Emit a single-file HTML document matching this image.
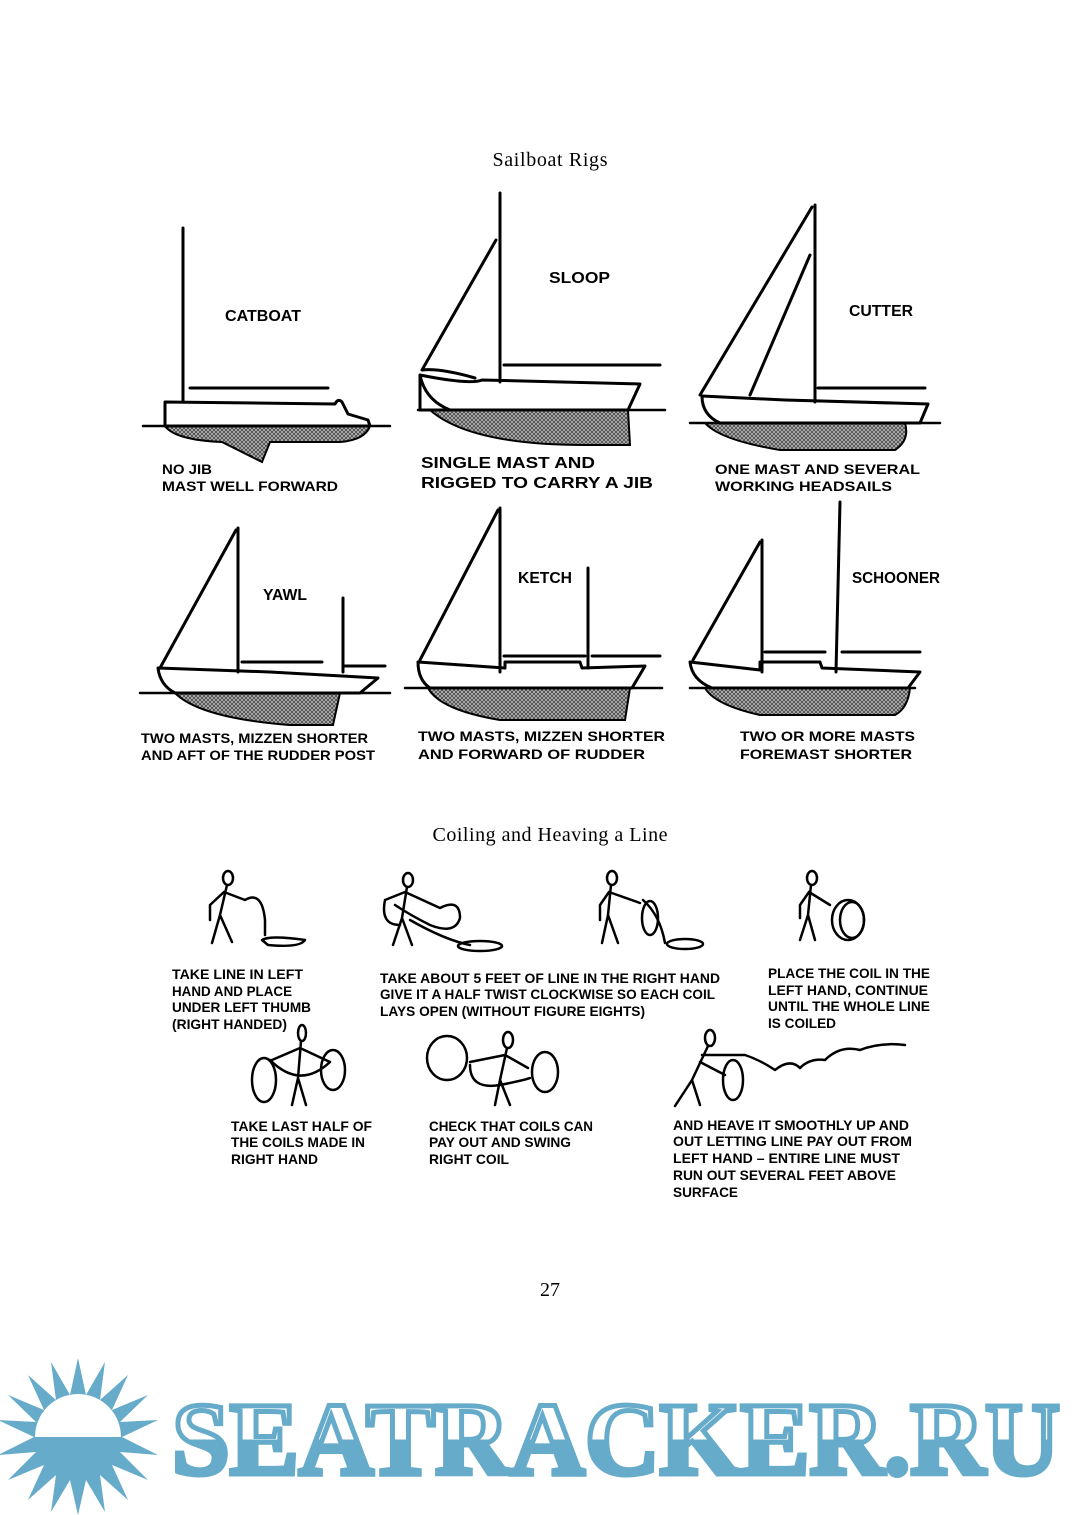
<!DOCTYPE html>
<html><head><meta charset="utf-8"><style>
html,body{margin:0;padding:0;background:#fff;}
svg{display:block}
.s{font-family:"Liberation Serif",serif;font-size:20px;fill:#000}
.b{font-family:"Liberation Sans",sans-serif;font-weight:bold;font-size:16px;fill:#000}
.c{font-family:"Liberation Sans",sans-serif;font-weight:bold;font-size:14px;fill:#000}
.l{stroke:#000;stroke-width:3;fill:none;stroke-linecap:round;stroke-linejoin:round}
.t{stroke:#000;stroke-width:2.5;fill:none;stroke-linecap:round;stroke-linejoin:round}
.h{fill:url(#hat);stroke:#000;stroke-width:2}
</style></head><body>
<svg width="1080" height="1515" viewBox="0 0 1080 1515" xmlns="http://www.w3.org/2000/svg">
<defs>
<pattern id="hat" width="4" height="4" patternUnits="userSpaceOnUse"><rect width="4" height="4" fill="#bbb"/><path d="M0 0L4 4M4 0L0 4" stroke="#444" stroke-width="0.8"/></pattern>
<linearGradient id="wm" x1="0" y1="0" x2="0" y2="1"><stop offset="0.5" stop-color="#fff"/><stop offset="0.5" stop-color="#67abcb"/></linearGradient>
</defs>
<text class="s" x="550" y="166" text-anchor="middle" textLength="115">Sailboat Rigs</text>

<!-- CATBOAT -->
<g>
<line class="l" x1="183" y1="228" x2="183" y2="402"/>
<line class="l" x1="190" y1="388" x2="328" y2="388"/>
<path class="h" d="M165 426 L370 426 Q365 440 340 442 L270 442 L262 462 L222 442 Q175 440 165 426Z"/>
<path class="l" d="M165 402 L335 404 Q338 398 342 402 L348 414 L368 420 L370 426 L165 426 Z" fill="#fff"/>
<line class="t" x1="143" y1="426" x2="390" y2="426"/>
<text class="b" x="225" y="321" textLength="76" lengthAdjust="spacingAndGlyphs">CATBOAT</text>
<text class="c" x="162" y="474" textLength="50" lengthAdjust="spacingAndGlyphs">NO JIB</text>
<text class="c" x="162" y="491" textLength="176" lengthAdjust="spacingAndGlyphs">MAST WELL FORWARD</text>
</g>

<!-- SLOOP -->
<g>
<line class="l" x1="500" y1="193" x2="500" y2="382"/>
<path class="l" d="M496 240 L422 370 Q440 368 475 378"/>
<line class="l" x1="504" y1="365" x2="660" y2="365"/>
<path class="h" d="M420 410 L628 410 L630 445 L585 445 Q470 445 430 410Z"/>
<path class="l" d="M420 375 Q470 385 482 380 L640 384 L628 410 L420 410 Z" fill="#fff"/>
<path class="l" d="M420 375 Q425 400 450 410"/>
<line class="t" x1="418" y1="410" x2="665" y2="410"/>
<text class="b" x="549" y="283" textLength="61" lengthAdjust="spacingAndGlyphs">SLOOP</text>
<text class="b" x="421" y="468" textLength="174" lengthAdjust="spacingAndGlyphs">SINGLE MAST AND</text>
<text class="b" x="421" y="488" textLength="232" lengthAdjust="spacingAndGlyphs">RIGGED TO CARRY A JIB</text>
</g>

<!-- CUTTER -->
<g>
<line class="l" x1="815" y1="205" x2="815" y2="402"/>
<path class="l" d="M812 207 L700 395"/>
<path class="l" d="M810 255 L750 395"/>
<line class="l" x1="818" y1="388" x2="925" y2="388"/>
<path class="h" d="M705 423 L905 423 Q910 440 895 450 L780 450 Q720 440 705 423Z"/>
<path class="l" d="M702 396 L785 400 L928 404 L920 423 L720 423 Q702 415 702 396Z" fill="#fff"/>
<line class="t" x1="690" y1="423" x2="940" y2="423"/>
<text class="b" x="849" y="316" textLength="64" lengthAdjust="spacingAndGlyphs">CUTTER</text>
<text class="c" x="715" y="474" textLength="205" lengthAdjust="spacingAndGlyphs">ONE MAST AND SEVERAL</text>
<text class="c" x="715" y="491" textLength="177" lengthAdjust="spacingAndGlyphs">WORKING HEADSAILS</text>
</g>

<!-- YAWL -->
<g>
<line class="l" x1="238" y1="528" x2="238" y2="672"/>
<path class="l" d="M236 530 L160 668"/>
<line class="l" x1="242" y1="662" x2="322" y2="662"/>
<line class="l" x1="343" y1="598" x2="343" y2="672"/>
<line class="l" x1="345" y1="666" x2="385" y2="666"/>
<path class="h" d="M175 693 L340 693 L333 725 L290 725 Q200 718 175 693Z"/>
<path class="l" d="M158 668 L270 672 L378 678 L360 693 L175 693 Q160 685 158 668Z" fill="#fff"/>
<line class="t" x1="140" y1="693" x2="390" y2="693"/>
<text class="b" x="263" y="600" font-size="14" textLength="44" lengthAdjust="spacingAndGlyphs">YAWL</text>
<text class="c" x="141" y="743" textLength="227" lengthAdjust="spacingAndGlyphs">TWO MASTS, MIZZEN SHORTER</text>
<text class="c" x="141" y="760" textLength="234" lengthAdjust="spacingAndGlyphs">AND AFT OF THE RUDDER POST</text>
</g>

<!-- KETCH -->
<g>
<line class="l" x1="500" y1="508" x2="500" y2="672"/>
<path class="l" d="M498 510 L420 660"/>
<line class="l" x1="504" y1="656" x2="585" y2="656"/>
<line class="l" x1="588" y1="568" x2="588" y2="668"/>
<line class="l" x1="592" y1="656" x2="660" y2="656"/>
<path class="h" d="M428 688 L630 688 L625 720 L500 720 Q440 710 428 688Z"/>
<path class="l" d="M418 662 L505 668 L505 662 L580 662 L582 668 L645 666 L632 688 L430 688 Q418 680 418 662Z" fill="#fff"/>
<line class="t" x1="405" y1="688" x2="662" y2="688"/>
<text class="b" x="518" y="583" font-size="14" textLength="54" lengthAdjust="spacingAndGlyphs">KETCH</text>
<text class="c" x="418" y="741" font-size="15" textLength="247" lengthAdjust="spacingAndGlyphs">TWO MASTS, MIZZEN SHORTER</text>
<text class="c" x="418" y="759" font-size="15" textLength="227" lengthAdjust="spacingAndGlyphs">AND FORWARD OF RUDDER</text>
</g>

<!-- SCHOONER -->
<g>
<line class="l" x1="762" y1="540" x2="762" y2="672"/>
<path class="l" d="M760 542 L693 660"/>
<line class="l" x1="765" y1="652" x2="825" y2="652"/>
<line class="l" x1="840" y1="502" x2="836" y2="672"/>
<line class="l" x1="842" y1="652" x2="920" y2="652"/>
<path class="h" d="M705 688 L910 688 Q908 708 895 715 L760 715 Q715 705 705 688Z"/>
<path class="l" d="M690 662 L760 670 L760 662 L820 662 L822 668 L920 672 L908 688 L712 688 Q692 680 690 662Z" fill="#fff"/>
<line class="t" x1="690" y1="688" x2="915" y2="688"/>
<text class="b" x="852" y="583" font-size="14" textLength="88" lengthAdjust="spacingAndGlyphs">SCHOONER</text>
<text class="c" x="740" y="741" font-size="15" textLength="175" lengthAdjust="spacingAndGlyphs">TWO OR MORE MASTS</text>
<text class="c" x="740" y="759" font-size="15" textLength="172" lengthAdjust="spacingAndGlyphs">FOREMAST SHORTER</text>
</g>

<text class="s" x="550" y="841" text-anchor="middle" textLength="235">Coiling and Heaving a Line</text>

<!-- stick figures -->
<g class="t">
<ellipse cx="228" cy="878" rx="5" ry="7"/>
<path d="M227 885 L220 915 L212 943 M220 915 L232 942 M224 892 L210 905 L210 920 M224 892 L245 900 Q262 890 265 920 L265 935"/>
<path d="M262 940 Q270 935 305 940 Q300 948 268 945Z"/>
<ellipse cx="408" cy="880" rx="5" ry="7"/>
<path d="M407 887 L402 918 L393 945 M402 918 L412 945 M405 892 L385 900 Q380 925 400 925 M405 892 L440 908 Q460 898 460 918 Q455 935 430 925 Q410 915 395 905 M410 920 Q445 940 470 945"/>
<ellipse cx="480" cy="946" rx="22" ry="5"/>
<ellipse cx="612" cy="878" rx="5" ry="7"/>
<path d="M611 885 L608 915 L602 943 M608 915 L618 943 M609 892 L600 905 L600 920 M609 892 L640 903 M643 900 Q660 915 665 943"/>
<ellipse cx="650" cy="918" rx="8" ry="17"/>
<ellipse cx="685" cy="944" rx="18" ry="5"/>
<ellipse cx="812" cy="878" rx="5" ry="7"/>
<path d="M811 885 L808 915 L800 940 M808 915 L815 940 M809 892 L800 905 L800 918 M809 892 L830 905"/>
<ellipse cx="848" cy="920" rx="16" ry="20"/><ellipse cx="852" cy="920" rx="12" ry="18"/>
<ellipse cx="302" cy="1033" rx="4" ry="8"/>
<path d="M301 1041 L298 1078 L292 1105 M298 1078 L306 1105 M300 1048 L272 1060 M300 1048 L330 1062 M270 1060 Q300 1090 330 1062"/>
<ellipse cx="264" cy="1080" rx="12" ry="22"/><ellipse cx="333" cy="1070" rx="12" ry="20"/>
<ellipse cx="508" cy="1040" rx="5" ry="8"/>
<path d="M507 1048 L500 1080 L495 1105 M500 1080 L510 1105 M505 1055 L470 1062 M505 1055 L528 1068 M470 1065 Q470 1090 500 1085 Q525 1080 530 1078"/>
<ellipse cx="447" cy="1058" rx="20" ry="22"/><ellipse cx="545" cy="1072" rx="13" ry="20"/>
<ellipse cx="710" cy="1038" rx="5" ry="8"/>
<path d="M708 1046 L692 1080 L675 1106 M692 1080 L700 1105 M702 1055 L745 1055 M700 1062 L725 1075 M745 1055 Q760 1060 775 1070 Q790 1058 800 1068 Q810 1058 825 1060 Q840 1045 860 1050 Q880 1042 905 1045"/>
<ellipse cx="733" cy="1080" rx="10" ry="20"/>
</g>

<g class="c">
<text x="172" y="979" textLength="131" lengthAdjust="spacingAndGlyphs">TAKE LINE IN LEFT</text>
<text x="172" y="996" textLength="120" lengthAdjust="spacingAndGlyphs">HAND AND PLACE</text>
<text x="172" y="1012" textLength="139" lengthAdjust="spacingAndGlyphs">UNDER LEFT THUMB</text>
<text x="172" y="1029" textLength="115" lengthAdjust="spacingAndGlyphs">(RIGHT HANDED)</text>
<text x="380" y="983" textLength="340" lengthAdjust="spacingAndGlyphs">TAKE ABOUT 5 FEET OF LINE IN THE RIGHT HAND</text>
<text x="380" y="999" textLength="335" lengthAdjust="spacingAndGlyphs">GIVE IT A HALF TWIST CLOCKWISE SO EACH COIL</text>
<text x="380" y="1016" textLength="265" lengthAdjust="spacingAndGlyphs">LAYS OPEN (WITHOUT FIGURE EIGHTS)</text>
<text x="768" y="978" textLength="162" lengthAdjust="spacingAndGlyphs">PLACE THE COIL IN THE</text>
<text x="768" y="995" textLength="160" lengthAdjust="spacingAndGlyphs">LEFT HAND, CONTINUE</text>
<text x="768" y="1011" textLength="162" lengthAdjust="spacingAndGlyphs">UNTIL THE WHOLE LINE</text>
<text x="768" y="1028" textLength="68" lengthAdjust="spacingAndGlyphs">IS COILED</text>
<text x="231" y="1131" textLength="141" lengthAdjust="spacingAndGlyphs">TAKE LAST HALF OF</text>
<text x="231" y="1147" textLength="134" lengthAdjust="spacingAndGlyphs">THE COILS MADE IN</text>
<text x="231" y="1164" textLength="87" lengthAdjust="spacingAndGlyphs">RIGHT HAND</text>
<text x="429" y="1131" textLength="164" lengthAdjust="spacingAndGlyphs">CHECK THAT COILS CAN</text>
<text x="429" y="1147" textLength="142" lengthAdjust="spacingAndGlyphs">PAY OUT AND SWING</text>
<text x="429" y="1164" textLength="80" lengthAdjust="spacingAndGlyphs">RIGHT COIL</text>
<text x="673" y="1130" textLength="236" lengthAdjust="spacingAndGlyphs">AND HEAVE IT SMOOTHLY UP AND</text>
<text x="673" y="1146" textLength="239" lengthAdjust="spacingAndGlyphs">OUT LETTING LINE PAY OUT FROM</text>
<text x="673" y="1163" textLength="227" lengthAdjust="spacingAndGlyphs">LEFT HAND – ENTIRE LINE MUST</text>
<text x="673" y="1180" textLength="223" lengthAdjust="spacingAndGlyphs">RUN OUT SEVERAL FEET ABOVE</text>
<text x="673" y="1197" textLength="65" lengthAdjust="spacingAndGlyphs">SURFACE</text>
</g>

<text class="s" x="550" y="1296" text-anchor="middle">27</text>

<g fill="#67abcb">
<polygon points="78,1358 86,1395 105,1362 100,1400 128,1375 112,1410 148,1395 120,1422 158,1420 122,1437 158,1455 120,1452 148,1480 112,1465 128,1500 100,1475 105,1512 86,1480 78,1515 70,1480 51,1512 56,1475 28,1500 44,1465 8,1480 36,1452 -2,1455 34,1437 -2,1420 36,1422 8,1395 44,1410 28,1375 56,1400 51,1362 70,1395"/>
<path d="M35 1437 A43 43 0 0 1 121 1437 Z" fill="#fff"/>
</g>
<text x="172" y="1474" font-family="Liberation Serif,serif" font-weight="bold" font-size="104" textLength="888" lengthAdjust="spacingAndGlyphs" fill="url(#wm)" stroke="#67abcb" stroke-width="5">SEATRACKER.RU</text>
</svg>
</body></html>
